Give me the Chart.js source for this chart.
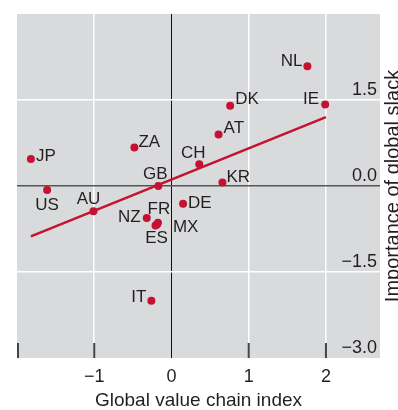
<!DOCTYPE html>
<html>
<head>
<meta charset="utf-8">
<script src="https://cdn.jsdelivr.net/npm/chart.js@4/dist/chart.umd.min.js"></script>
<style>
  html, body { margin: 0; padding: 0; background: #ffffff; }
  #wrap { width: 398px; height: 410px; position: relative; }
</style>
</head>
<body>
<div id="wrap"><canvas id="chart" width="398" height="410"></canvas></div>
<script>
// Country codes and their coordinates
const countries   = ['NL', 'DK', 'IE', 'AT', 'ZA', 'JP', 'CH', 'GB', 'KR', 'US', 'DE', 'AU', 'NZ', 'FR', 'MX', 'ES', 'IT'];
const gvcIndex    = [1.76, 0.76, 1.99, 0.61, -0.48, -1.82, 0.36, -0.17, 0.66, -1.61, 0.15, -1.01, -0.32, -0.175, -0.188, -0.207, -0.26];
const globalSlack = [2.09, 1.40, 1.42, 0.90, 0.67, 0.47, 0.38, 0.00, 0.06, -0.07, -0.31, -0.44, -0.56, -0.64, -0.673, -0.69, -2.00];

// Fitted line end points
const fitX = [-1.82, 2.00];
const fitY = [-0.88, 1.20];

// Axis ticks
const xTicks = [-2, -1, 0, 1, 2];
const yTicks = [-3, -1.5, 0, 1.5, 3];

// Where each country code sits relative to its dot: [textAlign, dx, dy]
const labelSpots = {
  NL: ['right', -5, -5], DK: ['left', 5, -6], IE: ['right', -6, -5], AT: ['left', 5, -6],
  ZA: ['left', 4, -5],   JP: ['left', 5, -3], CH: ['center', -6, -11], GB: ['center', -3, -12],
  KR: ['left', 4, -5],   US: ['center', 0, 15], DE: ['left', 5, 0], AU: ['center', -5, -12],
  NZ: ['right', -6, -1], FR: ['center', 1, -13], MX: ['left', 16, 3], ES: ['center', 1, 13],
  IT: ['right', -5, -3]
};

const RED = '#c41230';
const INK = '#231f20';
const FONT = '"Liberation Sans", Arial, Helvetica, sans-serif';
const minus = s => String(s).replace('-', '\u2212');

const points = countries.map((c, i) => ({ x: gvcIndex[i], y: globalSlack[i] }));
const fitLine = fitX.map((x, i) => ({ x, y: fitY[i] }));

const panelPlugin = {
  id: 'panel',
  beforeDraw(chart) {
    const { ctx, chartArea: a } = chart;
    ctx.save();
    ctx.fillStyle = '#d9dadc';
    ctx.fillRect(a.left, a.top, a.right - a.left, a.bottom - a.top);
    ctx.restore();
  },
  beforeDatasetsDraw(chart) {
    const { ctx, chartArea: a, scales: { x, y } } = chart;
    ctx.save();
    // short inward tick marks along the bottom edge
    ctx.strokeStyle = '#444';
    ctx.lineWidth = 2;
    xTicks.filter(v => v !== 0).forEach(v => {
      const px = Math.max(x.getPixelForValue(v), a.left + 1);
      ctx.beginPath();
      ctx.moveTo(px, a.bottom - 15);
      ctx.lineTo(px, a.bottom);
      ctx.stroke();
    });
    // value labels sitting just above the horizontal grid lines
    ctx.fillStyle = INK;
    ctx.font = '18px ' + FONT;
    ctx.textAlign = 'right';
    ctx.textBaseline = 'alphabetic';
    yTicks.filter(v => v !== 3).forEach(v => {
      ctx.fillText(minus(v.toFixed(1)), a.right - 3, y.getPixelForValue(v) - 5);
    });
    ctx.restore();
  },
  afterDraw(chart) {
    const { ctx, chartArea: a } = chart;
    ctx.save();
    // country codes
    const meta = chart.getDatasetMeta(0);
    ctx.fillStyle = INK;
    ctx.font = '17px ' + FONT;
    ctx.textBaseline = 'middle';
    meta.data.forEach((el, i) => {
      const [align, dx, dy] = labelSpots[countries[i]];
      ctx.textAlign = align;
      ctx.fillText(countries[i], el.x + dx, el.y + dy);
    });
    // vertical axis title, reading upwards along the right side
    ctx.font = '20px ' + FONT;
    ctx.textAlign = 'center';
    ctx.textBaseline = 'alphabetic';
    ctx.translate(399, (a.top + a.bottom) / 2);
    ctx.rotate(-Math.PI / 2);
    ctx.fillText('Importance of global slack', 0, 0);
    ctx.restore();
  }
};

new Chart(document.getElementById('chart'), {
  type: 'scatter',
  data: {
    datasets: [
      {
        data: points,
        backgroundColor: RED,
        borderColor: RED,
        pointRadius: 4,
        pointHoverRadius: 4,
        borderWidth: 0,
        order: 1
      },
      {
        type: 'line',
        data: fitLine,
        borderColor: RED,
        borderWidth: 2.5,
        pointRadius: 0,
        showLine: true,
        fill: false,
        order: 2
      }
    ]
  },
  plugins: [panelPlugin],
  options: {
    responsive: false,
    animation: false,
    events: [],
    layout: { padding: { left: 17, right: 18, top: 14, bottom: 0 } },
    plugins: { legend: { display: false }, tooltip: { enabled: false } },
    scales: {
      x: {
        type: 'linear',
        min: -2,
        max: 2.7,
        afterBuildTicks: axis => { axis.ticks = xTicks.map(v => ({ value: v })); },
        ticks: {
          color: INK,
          font: { family: FONT, size: 18, lineHeight: 1 },
          padding: 10,
          autoSkip: false,
          maxRotation: 0,
          callback: v => (v === -2 ? '' : minus(v))
        },
        grid: {
          drawTicks: false,
          color: c => (c.tick.value === 0 ? '#111' : (c.tick.value === -2 ? 'rgba(0,0,0,0)' : '#ffffff')),
          lineWidth: c => (c.tick.value === 0 ? 1 : 1.5)
        },
        border: { display: false },
        title: {
          display: true,
          text: 'Global value chain index',
          color: INK,
          font: { family: FONT, size: 19, lineHeight: 1 },
          padding: { top: -5, bottom: 0 }
        }
      },
      y: {
        type: 'linear',
        min: -3,
        max: 3,
        afterBuildTicks: axis => { axis.ticks = yTicks.map(v => ({ value: v })); },
        ticks: { display: false },
        grid: {
          drawTicks: false,
          color: c => (c.tick.value === 0 ? '#555' : (Math.abs(c.tick.value) === 3 ? 'rgba(0,0,0,0)' : '#ffffff')),
          lineWidth: 1.5
        },
        border: { display: false }
      }
    }
  }
});
</script>
</body>
</html>
